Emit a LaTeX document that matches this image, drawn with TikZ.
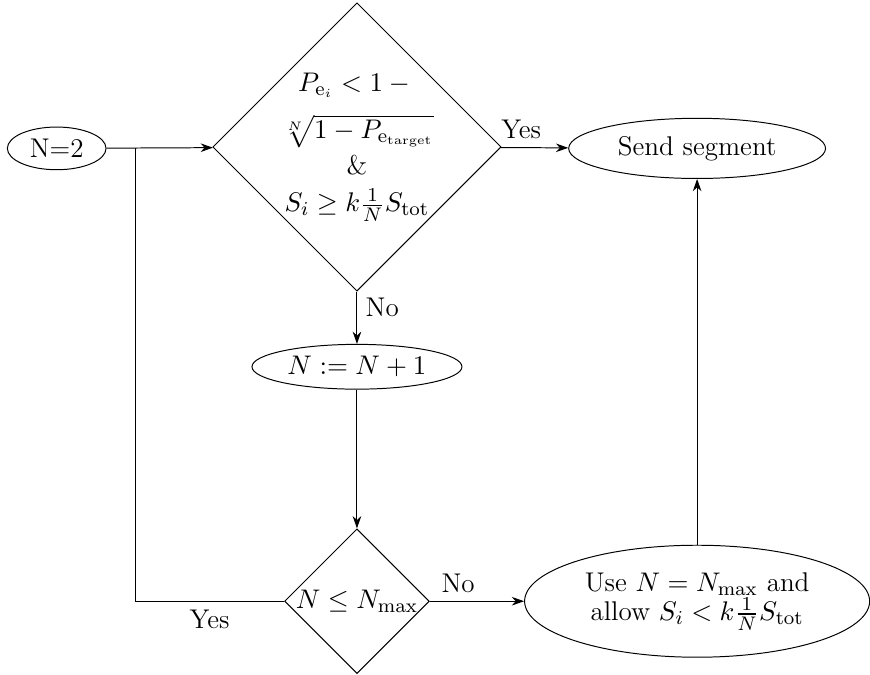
\documentclass[tikz,border=0pt]{standalone}
\usepackage{amsmath}
\usepackage{amssymb}
\usepackage{tikz}
\usetikzlibrary{arrows.meta, positioning, shapes.geometric}

\begin{document}
\begin{tikzpicture}[>={Stealth[length=5pt,width=3.5pt]},
		font=\fontsize{11}{11}\selectfont,
		state/.style={ellipse, draw, inner sep=0pt, align=center},
		decision/.style={diamond, draw, aspect=1, inner sep=0pt, align=center}]
				\useasboundingbox (0,0) rectangle (12.43,9.63);
				% States and decisions:
				\node[state, minimum width=1.41cm, minimum height=0.61cm](N1) at (0.81, 7.51){N=2};
				\node[decision, minimum size=4.12cm, inner sep=-0.3cm, font=\fontsize{11}{15}\selectfont](N2) at (5.10, 7.53){$P_{\mathrm{e}_i} < 1 -{}$\\[4pt]$\sqrt[N]{1-P_{\mathrm{e}_{\mathrm{target}}}}$\\\&\\$S_i \geq k\frac{1}{N}S_{\mathrm{tot}}$};
				\node[state, minimum width=3.67cm, minimum height=0.86cm](N3) at (9.96, 7.51){Send segment};
				\node[state, minimum width=3.00cm, minimum height=0.64cm](N4) at (5.10, 4.39){$N := N+1$};
				\node[decision, minimum size=2.03cm](N5) at (5.10, 1.04){$N \leq N_{\max}$};
				\node[state, minimum width=4.93cm, minimum height=1.60cm, font=\fontsize{11}{12}\selectfont](N6) at (9.96, 1.04){Use $N = N_{\max}$ and\\allow $S_i < k\frac{1}{N}S_{\mathrm{tot}}$};
				\coordinate (C1) at (1.93, 7.51);
				% Connectors:
				\draw[->] (N1) -- (N2);
				\draw[->] (N2) -- node[above, pos=0.3]{Yes} (N3);
				\draw[->] (N2) -- node[right, pos=0.3]{No} (N4);
				\draw[->] (N4) -- (N5);
				\draw[->] (N5) -- node[above, pos=0.3]{No} (N6);
				\draw[->] (N6) -- (N3);
				\draw (N5.west) -| node[below, pos=0.25]{Yes} (C1);
			\end{tikzpicture}
\end{document}
